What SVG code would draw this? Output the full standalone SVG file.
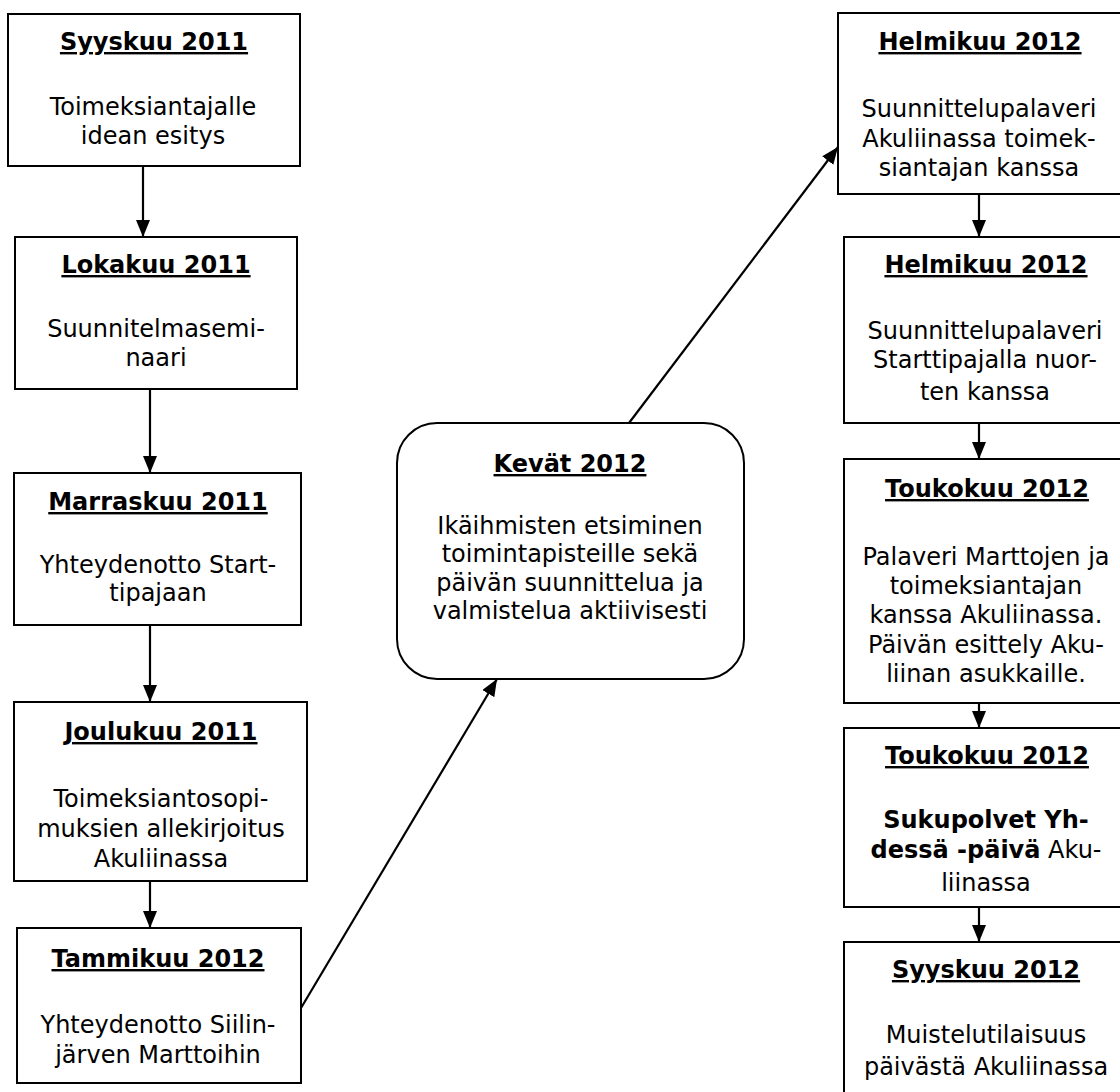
<svg xmlns="http://www.w3.org/2000/svg" width="1120" height="1092" viewBox="0 0 1120 1092">
<style>
.box{fill:#fff;stroke:#000;stroke-width:2}
.t{font-family:"DejaVu Sans",Verdana,sans-serif;font-size:24px;fill:#000;text-anchor:middle}
.h{font-weight:bold;text-decoration:underline}
.b{font-weight:bold}
.c{stroke:#000;stroke-width:2.2;fill:none;marker-end:url(#ah)}
</style>
<defs>
<marker id="ah" markerUnits="userSpaceOnUse" markerWidth="17" markerHeight="14" refX="17" refY="7" orient="auto">
<path d="M0,0 L17,7 L0,14 z" fill="#000"/>
</marker>
</defs>
<rect width="1120" height="1092" fill="#fff"/>
<g id="connectors">
<line class="c" x1="143" y1="166" x2="143" y2="237"/>
<line class="c" x1="150" y1="389" x2="150" y2="473"/>
<line class="c" x1="150" y1="625" x2="150" y2="702"/>
<line class="c" x1="150" y1="881" x2="150" y2="928"/>
<line class="c" x1="301" y1="1008" x2="497" y2="679"/>
<line class="c" x1="629" y1="423" x2="838" y2="147"/>
<line class="c" x1="979" y1="194" x2="979" y2="237"/>
<line class="c" x1="979" y1="423" x2="979" y2="459"/>
<line class="c" x1="979" y1="703" x2="979" y2="728"/>
<line class="c" x1="979" y1="907" x2="979" y2="942"/>
</g>
<g id="syyskuu2011">
<rect class="box" x="8" y="14" width="292" height="152"/>
<text class="t h" x="154" y="50">Syyskuu 2011</text>
<text class="t" x="153" y="115">Toimeksiantajalle</text>
<text class="t" x="153" y="144">idean esitys</text>
</g>
<g id="lokakuu2011">
<rect class="box" x="15" y="237" width="282" height="152"/>
<text class="t h" x="156" y="273">Lokakuu 2011</text>
<text class="t" x="156" y="337">Suunnitelmasemi-</text>
<text class="t" x="156" y="366">naari</text>
</g>
<g id="marraskuu2011">
<rect class="box" x="14" y="473" width="287" height="152"/>
<text class="t h" x="158" y="510">Marraskuu 2011</text>
<text class="t" x="158" y="573">Yhteydenotto Start-</text>
<text class="t" x="158" y="601">tipajaan</text>
</g>
<g id="joulukuu2011">
<rect class="box" x="14" y="702" width="293" height="179"/>
<text class="t h" x="161" y="740">Joulukuu 2011</text>
<text class="t" x="161" y="807">Toimeksiantosopi-</text>
<text class="t" x="161" y="837">muksien allekirjoitus</text>
<text class="t" x="161" y="867">Akuliinassa</text>
</g>
<g id="tammikuu2012">
<rect class="box" x="17" y="928" width="284" height="155"/>
<text class="t h" x="158" y="967">Tammikuu 2012</text>
<text class="t" x="158" y="1033">Yhteydenotto Siilin-</text>
<text class="t" x="158" y="1063">järven Marttoihin</text>
</g>
<g id="kevat2012">
<rect class="box" x="397" y="423" width="347" height="256" rx="40" ry="40"/>
<text class="t h" x="570" y="472">Kevät 2012</text>
<text class="t" x="570" y="534">Ikäihmisten etsiminen</text>
<text class="t" x="570" y="562">toimintapisteille sekä</text>
<text class="t" x="570" y="591">päivän suunnittelua ja</text>
<text class="t" x="570" y="619">valmistelua aktiivisesti</text>
</g>
<g id="helmikuu2012a">
<rect class="box" x="838" y="13" width="284" height="181"/>
<text class="t h" x="980" y="50">Helmikuu 2012</text>
<text class="t" x="979" y="117">Suunnittelupalaveri</text>
<text class="t" x="979" y="147">Akuliinassa toimek-</text>
<text class="t" x="979" y="176">siantajan kanssa</text>
</g>
<g id="helmikuu2012b">
<rect class="box" x="844" y="237" width="284" height="186"/>
<text class="t h" x="986" y="273">Helmikuu 2012</text>
<text class="t" x="985" y="339">Suunnittelupalaveri</text>
<text class="t" x="985" y="368">Starttipajalla nuor-</text>
<text class="t" x="985" y="400">ten kanssa</text>
</g>
<g id="toukokuu2012a">
<rect class="box" x="844" y="459" width="284" height="244"/>
<text class="t h" x="987" y="497">Toukokuu 2012</text>
<text class="t" x="986" y="565">Palaveri Marttojen ja</text>
<text class="t" x="986" y="594">toimeksiantajan</text>
<text class="t" x="986" y="623">kanssa Akuliinassa.</text>
<text class="t" x="986" y="653">Päivän esittely Aku-</text>
<text class="t" x="986" y="682">liinan asukkaille.</text>
</g>
<g id="toukokuu2012b">
<rect class="box" x="844" y="728" width="284" height="179"/>
<text class="t h" x="987" y="764">Toukokuu 2012</text>
<text class="t b" x="986" y="828">Sukupolvet Yh-</text>
<text class="t" x="986" y="858"><tspan class="b">dessä -päivä</tspan> Aku-</text>
<text class="t" x="986" y="891">liinassa</text>
</g>
<g id="syyskuu2012">
<rect class="box" x="844" y="942" width="284" height="160"/>
<text class="t h" x="986" y="978">Syyskuu 2012</text>
<text class="t" x="986" y="1043">Muistelutilaisuus</text>
<text class="t" x="986" y="1075">päivästä Akuliinassa</text>
</g>
</svg>
